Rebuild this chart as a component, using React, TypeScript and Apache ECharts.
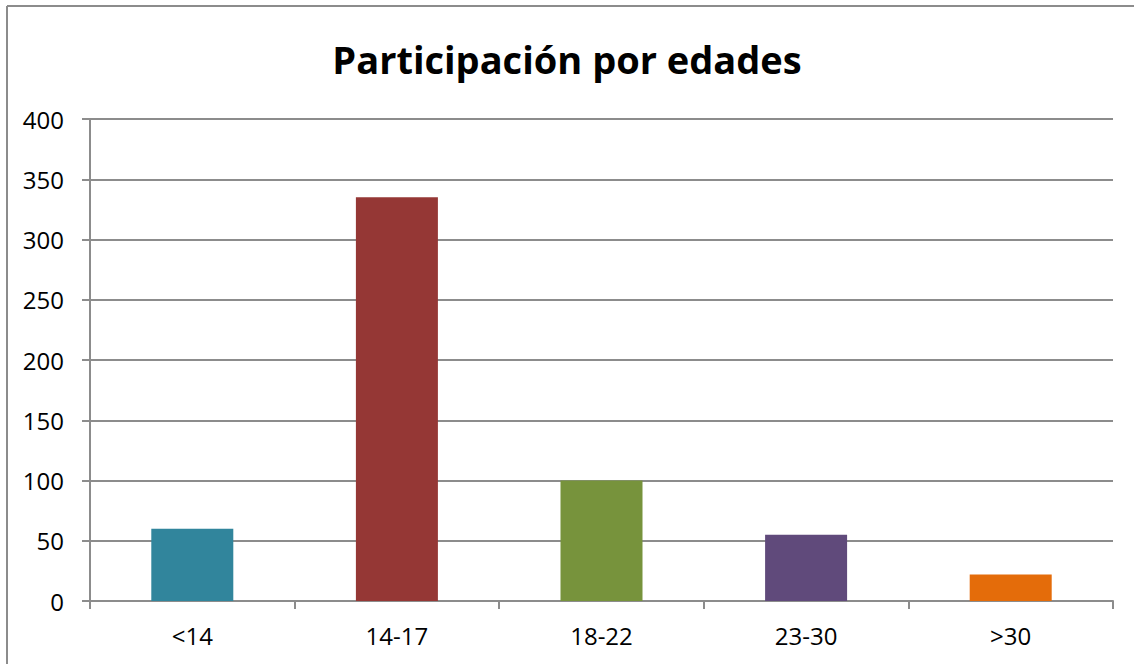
import React, { useEffect, useRef } from "react";
import * as echarts from "echarts";

const categories = ["<14", "14-17", "18-22", "23-30", ">30"];
const values = [60, 335, 100, 55, 22];
const barColors = ["#31859C", "#953735", "#77933C", "#604A7B", "#E46C0A"];
const titleText = "Participación por edades";

export default function App() {
  const ref = useRef<HTMLDivElement>(null);
  useEffect(() => {
    const chart = echarts.init(ref.current!, null, { renderer: "svg" });
    const font = "'Open Sans', 'Noto Sans', sans-serif";
    const borderStyle = { stroke: "#8c8c8c", lineWidth: 2 };
    chart.setOption({
      animation: false,
      backgroundColor: "#ffffff",
      title: {
        text: titleText,
        left: "center",
        top: 35,
        textStyle: { fontFamily: font, fontWeight: "bold", fontSize: 38, color: "#000" },
      },
      graphic: [
        {
          type: "line",
          shape: { x1: 7, y1: 6, x2: 1134, y2: 6 },
          style: borderStyle,
          silent: true,
        },
        {
          type: "line",
          shape: { x1: 7, y1: 6, x2: 7, y2: 664 },
          style: borderStyle,
          silent: true,
        },
      ],
      grid: { left: 90, right: 21, top: 119, bottom: 63, containLabel: false },
      xAxis: {
        type: "category",
        data: categories,
        axisLine: { lineStyle: { color: "#8c8c8c", width: 2 } },
        axisTick: { show: true, length: 8, lineStyle: { color: "#8c8c8c", width: 2 } },
        axisLabel: { color: "#000", fontFamily: font, fontSize: 24, margin: 22 },
      },
      yAxis: {
        type: "value",
        min: 0,
        max: 400,
        interval: 50,
        axisLine: { show: true, lineStyle: { color: "#8c8c8c", width: 2 } },
        axisTick: { show: true, length: 8, lineStyle: { color: "#8c8c8c", width: 2 } },
        splitLine: { lineStyle: { color: "#8c8c8c", width: 2 } },
        axisLabel: { color: "#000", fontFamily: font, fontSize: 24, margin: 26 },
      },
      series: [
        {
          type: "bar",
          data: values.map((v, i) => ({ value: v, itemStyle: { color: barColors[i] } })),
          barWidth: 82,
        },
      ],
    });
    return () => chart.dispose();
  }, []);
  return (
    <div
      ref={ref}
      style={{ position: "fixed", left: 0, top: 0, width: 1134, height: 664, background: "#fff" }}
    />
  );
}
